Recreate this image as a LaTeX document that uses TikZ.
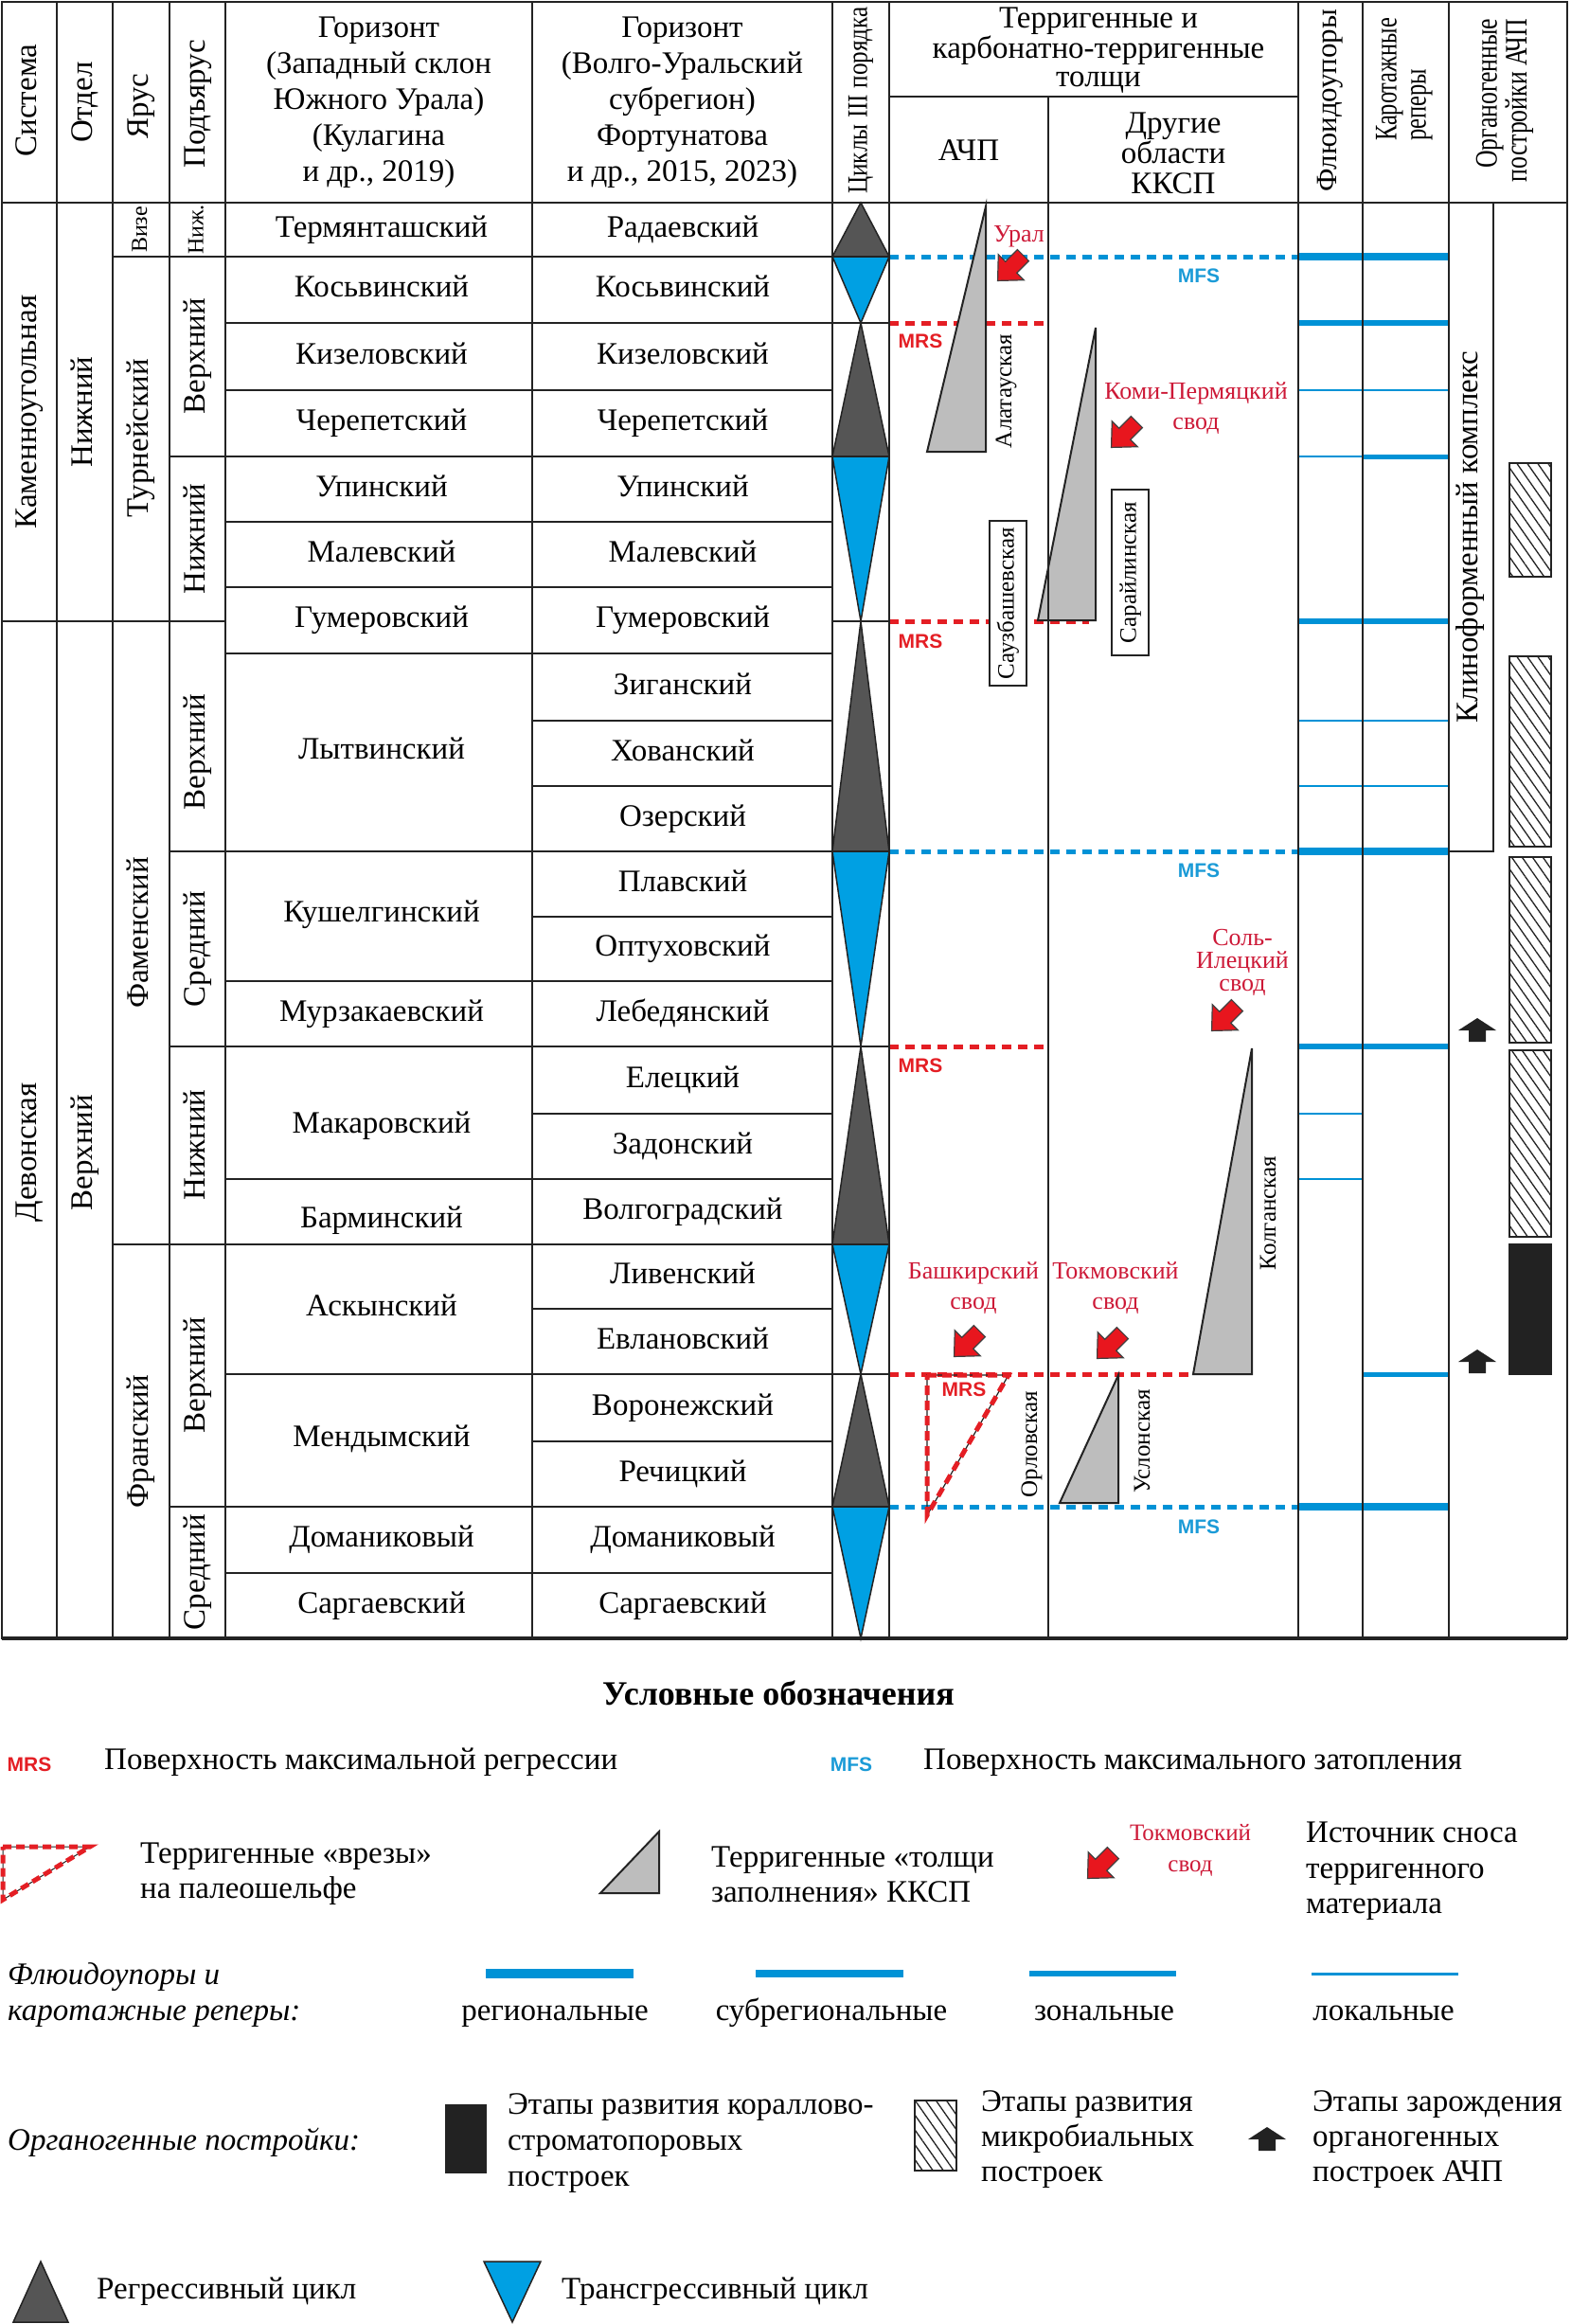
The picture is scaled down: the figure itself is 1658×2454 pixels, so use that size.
\documentclass[tikz,border=0pt]{standalone}
\usepackage{fontspec}
\setmainfont{Liberation Serif}
\setsansfont{Liberation Sans}
\usetikzlibrary{patterns.meta}
\newcommand\fsz[2]{\fontsize{#1}{#2}\selectfont}
\definecolor{cycblue}{RGB}{0,160,227}
\definecolor{cycgrey}{RGB}{85,85,85}
\definecolor{lineblue}{RGB}{0,146,214}
\definecolor{mfsblue}{RGB}{27,155,215}
\definecolor{mrsred}{RGB}{228,30,36}
\definecolor{srcred}{RGB}{205,25,55}
\definecolor{arrred}{RGB}{232,22,30}
\definecolor{fillgrey}{RGB}{189,189,189}
\definecolor{gridc}{RGB}{35,35,35}
\definecolor{orgblack}{RGB}{34,34,34}
\begin{document}
\begin{tikzpicture}[x=1pt,y=-1pt,
  grid/.style={line width=2.5pt, draw=gridc, line cap=rect},
  cell/.style={inner sep=0pt, font=\fsz{33}{38}, text height=22pt, text depth=7pt},
  rcell/.style={cell, rotate=90},
  small/.style={inner sep=0pt, font=\fsz{24}{28}, text height=17pt, text depth=5pt, rotate=90},
  multi/.style={inner sep=0pt, align=center, font=\fsz{33}{38}},
  leg/.style={inner sep=0pt, anchor=west, align=left, font=\fsz{33}{38}},
  mrsd/.style={draw=mrsred, line width=5pt, dash pattern=on 10pt off 7pt},
  mfsd/.style={draw=lineblue, line width=5pt, dash pattern=on 10pt off 7pt},
  mrslab/.style={inner sep=0pt, text=mrsred, font=\sffamily\bfseries\fsz{21}{22}},
  mfslab/.style={inner sep=0pt, text=mfsblue, font=\sffamily\bfseries\fsz{21}{22}},
  srclab/.style={inner sep=0pt, text=srcred, align=center, font=\fsz{26}{32}},
  trilab/.style={inner sep=0pt, rotate=90, font=\fsz{25}{28}, text height=17pt, text depth=5pt},
  labbox/.style={trilab, draw=gridc, line width=2pt, fill=white},
  filltri/.style={fill=fillgrey, draw=gridc, line width=2pt, line join=miter},
  cycd/.style={fill=cycgrey, draw=gridc, line width=1.5pt},
  cycb/.style={fill=cycblue, draw=gridc, line width=1.5pt},
  hatch/.style={draw=gridc, line width=1.8pt, pattern={Lines[angle=-55,distance=9pt,line width=1.3pt]}, pattern color=gridc},
  regl/.style={draw=lineblue, line width=8pt},
  subl/.style={draw=lineblue, line width=6pt},
  zonl/.style={draw=lineblue, line width=5pt},
  locl/.style={draw=lineblue, line width=2.5pt},
  srcarrow/.pic={\filldraw[fill=arrred, draw=black!75, line width=1.2pt, line join=miter]
     (0,19) -- (-19,-1) -- (-8.5,-1) -- (-8.5,-19) -- (8.5,-19) -- (8.5,-1) -- (19,-1) -- cycle;},
  orgarrow/.pic={\fill[orgblack] (0,-13) -- (20,0) -- (9,0) -- (9,12) -- (-9,12) -- (-9,0) -- (-20,0) -- cycle;}
]
\useasboundingbox (0,0) rectangle (1658,2454);
\fill[white] (0,0) rectangle (1658,2454);

% ---------- blue fluid / log lines ----------
\draw[regl] (1371,271) -- (1530,271);
\draw[subl] (1371,341) -- (1530,341);
\draw[locl] (1371,412) -- (1530,412);
\draw[locl] (1371,482) -- (1439,482);
\draw[zonl] (1439,482) -- (1530,482);
\draw[subl] (1371,656) -- (1530,656);
\draw[locl] (1371,761) -- (1530,761);
\draw[locl] (1371,830) -- (1530,830);
\draw[regl] (1371,899) -- (1530,899);
\draw[subl] (1371,1105) -- (1530,1105);
\draw[locl] (1371,1176) -- (1439,1176);
\draw[locl] (1371,1245) -- (1439,1245);
\draw[zonl] (1439,1451) -- (1530,1451);
\draw[regl] (1371,1591) -- (1530,1591);

% ---------- MFS / MRS dashed lines ----------
\draw[mfsd] (939,271) -- (1371,271);
\draw[mfsd] (939,899) -- (1371,899);
\draw[mfsd] (939,1591) -- (1371,1591);
\draw[mrsd] (939,341) -- (1107,341);
\draw[mrsd] (939,656) -- (1150,656);
\draw[mrsd] (939,1105) -- (1107,1105);
\draw[mrsd] (939,1451) -- (1260,1451);

% ---------- cycles ----------
\foreach \a/\b in {214/271,341/482,656/899,1105/1314,1451/1591}
  \filldraw[cycd] (909,\a) -- (939,\b) -- (879,\b) -- cycle;
\foreach \a/\b in {271/341,482/656,899/1105,1314/1451,1591/1730}
  \filldraw[cycb] (879,\a) -- (939,\a) -- (909,\b) -- cycle;

% ---------- filling wedges ----------
\filldraw[filltri] (979,477) -- (1041,477) -- (1041,218) -- cycle;
\filldraw[filltri] (1096,655) -- (1157,655) -- (1157,346) -- cycle;
\filldraw[filltri] (1260,1451) -- (1322,1451) -- (1322,1107) -- cycle;
\filldraw[filltri] (1119,1587) -- (1181,1587) -- (1181,1452) -- cycle;
% incision
\draw[gridc, line width=1.2pt] (979,1452) -- (1065,1452) -- (979,1600) -- cycle;
\draw[mrsd, dash pattern=on 10pt off 6pt] (979,1452) -- (1065,1452) -- (979,1600) -- cycle;

% ---------- organogenic column ----------
\draw[hatch] (1594,489) rectangle (1638,609);
\draw[hatch] (1594,693) rectangle (1638,894);
\draw[hatch] (1594,905) rectangle (1638,1101);
\draw[hatch] (1594,1109) rectangle (1638,1306);
\filldraw[fill=orgblack, draw=orgblack, line width=1.5pt] (1594,1314) rectangle (1638,1451);
\pic at (1560,1088) {orgarrow};
\pic at (1560,1438) {orgarrow};

% ---------- grid ----------
\draw[grid] (2,2) rectangle (1655,1730);
\foreach \x in {60,119,179,238,562,879,939,1371,1439,1530} \draw[grid] (\x,2) -- (\x,1730);
\draw[grid] (1107,102) -- (1107,1730);
\draw[grid] (2,214) -- (1655,214);
\draw[grid] (939,102) -- (1371,102);
\foreach \y in {412,551,620,690,1036,1245,1661} \draw[grid] (238,\y) -- (879,\y);
\foreach \y in {761,830,968,1176,1382,1522} \draw[grid] (562,\y) -- (879,\y);
\foreach \y in {341,1451} \draw[grid] (238,\y) -- (939,\y);
\foreach \y in {482,899,1105,1591} \draw[grid] (179,\y) -- (939,\y);
\foreach \y in {271,1314} \draw[grid] (119,\y) -- (939,\y);
\draw[grid] (2,656) -- (238,656);
\draw[grid] (879,656) -- (939,656);
\draw[grid] (1577,214) -- (1577,899) -- (1530,899);
\draw[line width=3.5pt, gridc] (2,1730) -- (1655,1730);

% ---------- header ----------
\node[rcell] (hSys) at (31,106) {Система};
\node[rcell] (hOtd) at (89.5,108) {Отдел};
\node[rcell] (hYar) at (149,112) {Ярус};
\node[rcell] (hPod) at (208.5,110) {Подъярус};
\node[multi] (hHorW) at (400,108) {Горизонт\\(Западный склон\\Южного Урала)\\(Кулагина\\и др., 2019)};
\node[multi] (hHorV) at (720.5,108) {Горизонт\\(Волго-Уральский\\субрегион)\\Фортунатова\\и др., 2015, 2023)};
\node[inner sep=0pt, rotate=90, font=\fsz{30}{34}] (hCyc) at (909,106) {\scalebox{0.84}[1]{Циклы III порядка}};
\node[multi, font=\fsz{33}{30}] (hTerr) at (1160,53) {Терригенные и\\карбонатно-терригенные\\толщи};
\node[cell] (hAchp) at (1023,162) {АЧП};
\node[multi, font=\fsz{33}{32}] (hOther) at (1239,162) {Другие\\области\\ККСП};
\node[inner sep=0pt, rotate=90, font=\fsz{31}{34}] (hFlu) at (1405,106) {Флюидоупоры};
\node[inner sep=0pt, rotate=90, font=\fsz{33}{31}] (hKar) at (1484,84) {\scalebox{0.74}[1]{\begin{tabular}{@{}l@{}}Каротажные\\реперы\end{tabular}}};
\node[inner sep=0pt, rotate=90, font=\fsz{33}{30}] (hOrg) at (1590,106) {\scalebox{0.78}[1]{\begin{tabular}{@{}r@{}}Органогенные\\постройки АЧП\end{tabular}}};

% ---------- left stratigraphic columns ----------
\node[rcell] (sCarb) at (31,435) {Каменноугольная};
\node[rcell] (sDev) at (31,1217) {Девонская};
\node[rcell] (oLow) at (89.5,435) {Нижний};
\node[rcell] (oUp) at (89.5,1217) {Верхний};
\node[small] (yVis) at (149,242.5) {Визе};
\node[rcell] (yTur) at (149,463) {Турнейский};
\node[rcell] (yFam) at (149,985) {Фаменский};
\node[rcell] (yFra) at (149,1522) {Франский};
\node[small] (pN0) at (208.5,242.5) {Ниж.};
\node[rcell] (pV1) at (208.5,376) {Верхний};
\node[rcell] (pN1) at (208.5,569) {Нижний};
\node[rcell] (pV2) at (208.5,794) {Верхний};
\node[rcell] (pS2) at (208.5,1002) {Средний};
\node[rcell] (pN2) at (208.5,1209) {Нижний};
\node[rcell] (pV3) at (208.5,1452) {Верхний};
\node[rcell] (pS3) at (208.5,1660) {Средний};

% ---------- horizons (western slope) ----------
\foreach \n/\y/\t in {1/242.5/Термянташский,2/306/Косьвинский,3/376.5/Кизеловский,4/447/Черепетский,
  5/516.5/Упинский,6/585.5/Малевский,7/655/Гумеровский,8/794/Лытвинский,9/966/Кушелгинский,
  10/1070.5/Мурзакаевский,11/1189/Макаровский,12/1289/Барминский,13/1382/Аскынский,
  14/1520/Мендымский,15/1626/Доманиковый,16/1695.5/Саргаевский}
  \node[cell] (w\n) at (403,\y) {\t};

% ---------- horizons (Volga-Ural) ----------
\foreach \n/\ya/\yb/\t in {1/214/271/Радаевский,2/271/341/Косьвинский,3/341/412/Кизеловский,
  4/412/482/Черепетский,5/482/551/Упинский,6/551/620/Малевский,7/620/690/Гумеровский,
  8/690/761/Зиганский,9/761/830/Хованский,10/830/899/Озерский,11/899/968/Плавский,
  12/968/1036/Оптуховский,13/1036/1105/Лебедянский,14/1105/1176/Елецкий,15/1176/1245/Задонский,
  16/1245/1314/Волгоградский,17/1314/1382/Ливенский,18/1382/1451/Евлановский,
  19/1451/1522/Воронежский,20/1522/1591/Речицкий,21/1591/1661/Доманиковый,22/1661/1730/Саргаевский}
  \node[cell] (v\n) at (721,{(\ya+\yb)/2}) {\t};

% ---------- labels in sequence columns ----------
\node[mrslab] (mrs1) at (972,360) {MRS};
\node[mrslab] (mrs2) at (972,677) {MRS};
\node[mrslab] (mrs3) at (972,1125) {MRS};
\node[mrslab] (mrs4) at (1018,1467) {MRS};
\node[mfslab] (mfs1) at (1266,291) {MFS};
\node[mfslab] (mfs2) at (1266,919) {MFS};
\node[mfslab] (mfs3) at (1266,1612) {MFS};

\node[trilab] (tAlat) at (1062,413) {Алатауская};
\node[labbox, minimum width=174pt, minimum height=39pt] (tSauz) at (1064.5,637) {Саузбашевская};
\node[labbox, minimum width=175pt, minimum height=39pt] (tSar) at (1193.5,604.5) {Сарайлинская};
\node[trilab] (tKolg) at (1341,1281) {Колганская};
\node[trilab] (tOrl) at (1089,1525) {Орловская};
\node[trilab] (tUsl) at (1208,1522) {Услонская};

\node[srclab] (sUral) at (1076,250) {Урал};
\node[srclab] (sKomi) at (1263,431) {Коми-Пермяцкий\\свод};
\node[srclab, font=\fsz{26}{24}] (sSol) at (1312,1016) {Соль-\\Илецкий\\свод};
\node[srclab] (sBash) at (1028,1360) {Башкирский\\свод};
\node[srclab] (sTokm) at (1178,1360) {Токмовский\\свод};
\pic[rotate=-45] at (1067,283) {srcarrow};
\pic[rotate=-45] at (1187,459) {srcarrow};
\pic[rotate=-45] at (1293,1075) {srcarrow};
\pic[rotate=-45] at (1021,1419) {srcarrow};
\pic[rotate=-45] at (1172,1421) {srcarrow};

\node[rcell] (klin) at (1553,567) {Клиноформенный комплекс};

% ---------- legend ----------
\node[inner sep=0pt, font=\bfseries\fsz{36}{40}] (legT) at (822,1788) {Условные обозначения};
\node[mrslab] (lMrs) at (31,1863) {MRS};
\node[leg] (lMrsT) at (110,1861) {Поверхность максимальной регрессии};
\node[mfslab] (lMfs) at (899,1863) {MFS};
\node[leg] (lMfsT) at (975,1861) {Поверхность максимального затопления};

\draw[gridc, line width=1pt] (3,1950) -- (95,1950) -- (3,2006) -- cycle;
\draw[mrsd, dash pattern=on 9pt off 5pt] (3,1950) -- (95,1950) -- (3,2006) -- cycle;
\node[leg, font=\fsz{33}{37}] (lInc) at (148,1979) {Терригенные «врезы»\\на палеошельфе};
\filldraw[filltri] (634,1999) -- (696,1999) -- (696,1934) -- cycle;
\node[leg, font=\fsz{33}{37}] (lFill) at (751,1979) {Терригенные «толщи\\заполнения» ККСП};
\node[srclab, font=\fsz{25}{33}] (lTokm) at (1257,1954) {Токмовский\\свод};
\pic[rotate=-45] at (1162,1970) {srcarrow};
\node[leg, font=\fsz{33}{37.5}] (lSrc) at (1379,1976) {Источник сноса\\терригенного\\материала};

\node[leg, font=\itshape\fsz{33}{38}] (lFlu) at (8,2107) {Флюидоупоры и\\каротажные реперы:};
\draw[lineblue, line width=10pt] (513,2084) -- (669,2084);
\draw[lineblue, line width=8pt] (798,2084) -- (954,2084);
\draw[lineblue, line width=6pt] (1087,2084) -- (1242,2084);
\draw[lineblue, line width=3pt] (1385,2084) -- (1540,2084);
\node[cell] (lReg) at (586,2126) {региональные};
\node[cell] (lSub) at (878,2126) {субрегиональные};
\node[cell] (lZon) at (1166,2126) {зональные};
\node[cell] (lLoc) at (1461,2126) {локальные};

\node[leg, font=\itshape\fsz{33}{38}] (lOrg) at (8,2262) {Органогенные постройки:};
\fill[orgblack] (470,2222) rectangle (514,2295);
\node[leg, font=\fsz{33}{38}] (lCor) at (536,2263) {Этапы развития кораллово-\\строматопоровых\\построек};
\draw[hatch] (966,2218) rectangle (1010,2292);
\node[leg, font=\fsz{33}{37}] (lMic) at (1036,2259) {Этапы развития\\микробиальных\\построек};
\pic at (1338,2259) {orgarrow};
\node[leg, font=\fsz{33}{37}] (lNuc) at (1386,2259) {Этапы зарождения\\органогенных\\построек АЧП};

\filldraw[cycd] (43,2388) -- (72,2452) -- (14,2452) -- cycle;
\node[leg] (lReg2) at (102,2420) {Регрессивный цикл};
\filldraw[cycb] (511,2388) -- (571,2388) -- (541,2452) -- cycle;
\node[leg] (lTr) at (593,2420) {Трансгрессивный цикл};
\end{tikzpicture}
\end{document}
